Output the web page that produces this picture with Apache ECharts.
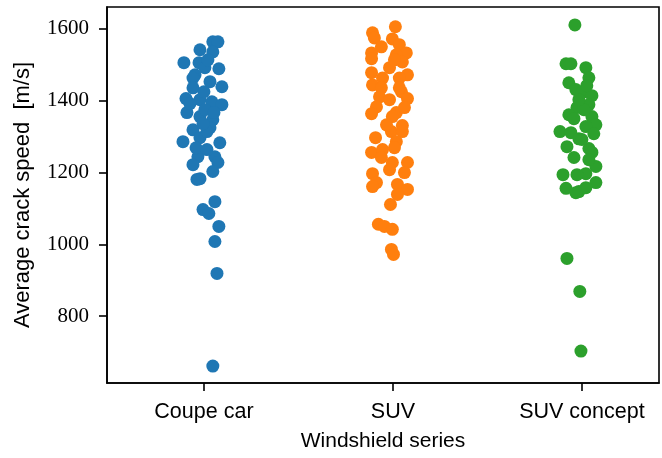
<!DOCTYPE html>
<html>
<head>
<meta charset="utf-8">
<script src="https://cdn.jsdelivr.net/npm/echarts@6/dist/echarts.min.js"></script>
<style>
  html, body { margin: 0; padding: 0; background: #fff; overflow: hidden; }
  #chart { width: 662px; height: 458px; }
</style>
</head>
<body>
<div id="chart"></div>
<script>
// Windshield series on the x axis
const categories = ['Coupe car', 'SUV', 'SUV concept'];
const yTicks = [800, 1000, 1200, 1400, 1600];

// Average crack speed per test [m/s] and the horizontal strip offset of each point
const coupeSpeed = [1564, 1564, 1542, 1536, 1506, 1506, 1492, 1489, 1472, 1463, 1453, 1439,
  1436, 1406, 1403, 1397, 1389, 1367, 1356, 1347, 1319, 1325, 1286, 1297, 1283, 1244, 1222,
  1244, 1228, 1203, 1183, 1181, 1119, 1097, 1086, 1050, 1008, 919, 661, 1375, 1314, 1269,
  1264, 1425, 1367, 1336, 1392, 1514];
const coupeJitter = [0.047, 0.074, -0.021, 0.047, -0.106, -0.026, 0.005, 0.079, -0.047, -0.058,
  0.032, 0.095, -0.058, -0.095, -0.021, 0.042, 0.095, -0.090, -0.021, 0.047, -0.058, 0.032,
  -0.111, -0.021, 0.084, -0.032, -0.058, 0.058, 0.074, 0.047, -0.021, -0.037, 0.058, -0.005,
  0.026, 0.079, 0.058, 0.069, 0.047, 0.005, 0.016, -0.042, 0.016, 0.000, 0.053, -0.005,
  -0.074, 0.021];

const suvSpeed = [1606, 1589, 1575, 1572, 1556, 1550, 1533, 1533, 1517, 1528, 1508, 1492,
  1478, 1472, 1463, 1463, 1444, 1436, 1425, 1406, 1411, 1403, 1383, 1364, 1367, 1356, 1331,
  1314, 1314, 1297, 1286, 1256, 1264, 1242, 1228, 1208, 1228, 1200, 1197, 1172, 1161, 1167,
  1153, 1139, 1111, 1056, 1050, 1042, 986, 972, 1514, 1436, 1333, 1269, 1381];
const suvJitter = [0.013, -0.108, -0.098, -0.003, 0.034, -0.061, -0.113, 0.071, -0.113, 0.018,
  0.050, -0.018, -0.113, 0.077, -0.055, 0.034, -0.108, -0.061, 0.045, 0.077, -0.071, -0.018,
  -0.087, -0.113, 0.018, -0.003, 0.050, -0.008, 0.050, -0.092, 0.018, -0.113, -0.055, -0.061,
  -0.003, -0.018, 0.077, 0.061, -0.108, -0.087, -0.108, 0.024, 0.077, 0.024, -0.013, -0.077,
  -0.045, -0.003, -0.008, 0.003, 0.008, 0.034, -0.034, 0.008, 0.061];

const conceptSpeed = [1611, 1503, 1503, 1492, 1464, 1450, 1431, 1422, 1414, 1389, 1381, 1361,
  1356, 1333, 1328, 1314, 1311, 1308, 1294, 1272, 1267, 1256, 1242, 1217, 1197, 1194, 1172,
  1156, 1147, 1158, 1144, 961, 869, 703, 1375, 1350, 1292, 1403, 1236, 1442, 1194];
const conceptJitter = [-0.037, -0.084, -0.058, 0.021, 0.037, -0.069, -0.032, 0.000, 0.053,
  0.037, -0.026, -0.069, 0.053, 0.074, 0.021, -0.116, -0.058, 0.063, -0.016, -0.079, 0.037,
  0.053, -0.042, 0.074, 0.021, -0.100, 0.074, -0.084, -0.016, 0.021, -0.032, -0.079, -0.011,
  -0.005, 0.011, -0.042, 0.000, -0.016, 0.037, 0.026, -0.026];

const groups = [
  { speed: coupeSpeed, jitter: coupeJitter, color: '#1f77b4' },
  { speed: suvSpeed, jitter: suvJitter, color: '#ff7f0e' },
  { speed: conceptSpeed, jitter: conceptJitter, color: '#2ca02c' }
];

const sans = '"Liberation Sans", Arial, sans-serif';
const serif = '"Liberation Serif", "DejaVu Serif", serif';

const chart = echarts.init(document.getElementById('chart'), null, { renderer: 'canvas' });

chart.setOption({
  backgroundColor: '#ffffff',
  animation: false,
  grid: {
    left: 107, top: 7, right: 3, bottom: 75,
    show: true, borderColor: '#000', borderWidth: 1.6, backgroundColor: 'transparent'
  },
  xAxis: {
    type: 'value',
    min: -0.513, max: 2.408,
    name: 'Windshield series',
    nameLocation: 'middle',
    nameGap: 48,
    nameTextStyle: { fontFamily: sans, fontSize: 21, color: '#000' },
    axisLine: { show: true, onZero: false, lineStyle: { color: '#000', width: 1.6 } },
    axisTick: { show: true, length: 8, customValues: [0, 1, 2], lineStyle: { color: '#000', width: 1.6 } },
    axisLabel: {
      customValues: [0, 1, 2],
      formatter: v => categories[Math.round(v)],
      fontFamily: sans, fontSize: 21.5, color: '#000', margin: 18
    },
    splitLine: { show: false }
  },
  yAxis: {
    type: 'value',
    min: 614, max: 1661,
    name: 'Average crack speed  [m/s]',
    nameLocation: 'middle',
    nameGap: 73,
    nameTextStyle: { fontFamily: sans, fontSize: 22, color: '#000' },
    axisLine: { show: true, onZero: false, lineStyle: { color: '#000', width: 1.6 } },
    axisTick: { show: true, length: 8, customValues: yTicks, lineStyle: { color: '#000', width: 1.6 } },
    axisLabel: {
      customValues: yTicks,
      formatter: v => String(v),
      fontFamily: serif, fontSize: 21, color: '#000', margin: 18
    },
    splitLine: { show: false }
  },
  series: groups.map((g, k) => ({
    type: 'scatter',
    name: categories[k],
    symbol: 'circle',
    symbolSize: 13,
    itemStyle: { color: g.color, opacity: 1 },
    data: g.speed.map((v, i) => [k + g.jitter[i], v])
  }))
});
</script>
</body>
</html>
